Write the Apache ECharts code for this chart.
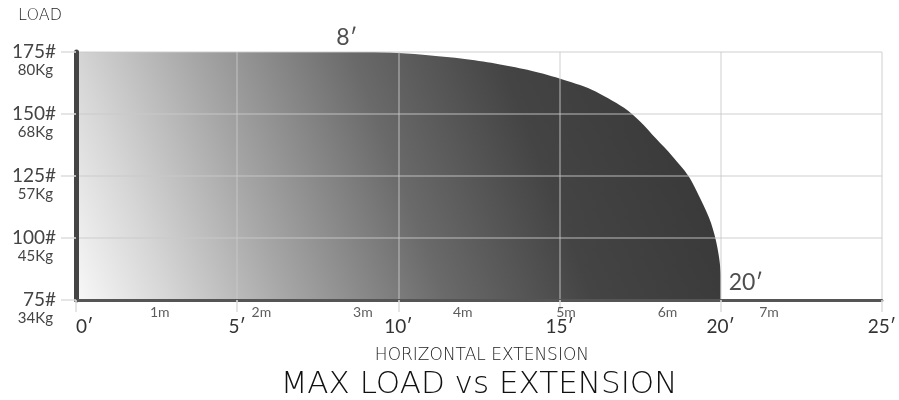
<!DOCTYPE html>
<html>
<head>
<meta charset="utf-8">
<script src="https://cdn.jsdelivr.net/npm/echarts@6/dist/echarts.min.js"></script>
<style>
html, body { margin: 0; padding: 0; background: #fff; }
#main { width: 899px; height: 400px; }
</style>
</head>
<body>
<div id="main"></div>
<script>
// max load curve (feet of extension -> lb)
let extFt   = [0, 8, 9, 10, 11, 12, 13, 14, 15, 16, 17, 17.5, 18, 18.5, 19, 19.4, 19.7, 19.9, 20, 20];
let maxLoad = [175, 175, 175, 174.6, 173.6, 172.3, 170.4, 167.8, 164.3, 159.8, 152.5, 147, 140, 133, 125, 115, 106, 96, 85, 75];

// y axis ticks: lb and kg
let loadLb = [75, 100, 125, 150, 175];
let loadKg = ['34Kg', '45Kg', '57Kg', '68Kg', '80Kg'];

// metric labels under the axis (placed in feet)
let metricLabels = ['1m', '2m', '3m', '4m', '5m', '6m', '7m'];
let metricPos = [2.6, 5.75, 8.9, 12.0, 15.2, 18.35, 21.5];

// notes on the curve
let noteLabels = ['8′', '20′'];
let noteFt = [8.4, 20];
let noteLoad = [175, 75];

let font = 'Lato, "Noto Sans", sans-serif';
let thin = '"DejaVu Sans", sans-serif';
let chart = echarts.init(document.getElementById('main'));

let curve = extFt.map((x, i) => [x, maxLoad[i]]);
let metric = metricLabels.map((m, i) => ({ name: m, value: [metricPos[i], 75] }));
let notes = noteLabels.map((t, i) => ({ name: t, value: [noteFt[i], noteLoad[i]] }));
notes[0].label = { position: 'top', distance: 3 };
notes[1].label = { position: 'right', distance: 8, offset: [0, -17] };

let option = {
    animation: false,
    title: {
        text: 'MAX LOAD vs EXTENSION',
        left: 474,
        top: 364,
        textAlign: 'center',
        textStyle: { fontFamily: thin, fontSize: 31, fontWeight: 200, color: '#111' }
    },
    grid: { left: 76, right: 13, top: 52, bottom: 100 },
    xAxis: {
        type: 'value',
        min: 0,
        max: 25,
        interval: 5,
        z: 3,
        name: 'HORIZONTAL EXTENSION',
        nameLocation: 'middle',
        nameGap: 47,
        nameTextStyle: { fontFamily: thin, fontSize: 17, fontWeight: 200, color: '#222', padding: [0, 0, 0, 6] },
        axisLine: { lineStyle: { color: '#555', width: 3 } },
        axisTick: { show: true, length: 12, lineStyle: { color: '#ddd', width: 1.5 } },
        axisLabel: {
            margin: 17,
            fontFamily: font,
            fontSize: 19,
            color: '#333',
            alignMinLabel: 'left',
            formatter: v => v + '′'
        },
        splitLine: { show: true, lineStyle: { color: 'rgba(200,200,200,0.6)', width: 1.5 } }
    },
    yAxis: {
        type: 'value',
        min: 75,
        max: 175,
        interval: 25,
        z: 3,
        name: 'LOAD',
        nameLocation: 'end',
        nameGap: 28,
        nameTextStyle: { fontFamily: thin, fontSize: 16, fontWeight: 200, color: '#222', align: 'right', padding: [0, 14, 0, 0] },
        axisLine: { show: true, lineStyle: { color: '#444', width: 5 } },
        axisTick: { show: true, length: 15, lineStyle: { color: '#ddd', width: 1.5 } },
        axisLabel: {
            margin: 20,
            align: 'right',
            fontFamily: font,
            color: '#444',
            formatter: v => {
                let i = loadLb.indexOf(v);
                return '{s| }\n{a|' + v + '#}\n{b|' + loadKg[i] + '}';
            },
            rich: {
                s: { fontSize: 10, lineHeight: 18 },
                a: { fontSize: 19, lineHeight: 18, color: '#444', fontFamily: font },
                b: { fontSize: 15, lineHeight: 18, color: '#444', fontFamily: font, padding: [0, 3, 0, 0] }
            }
        },
        splitLine: { show: true, lineStyle: { color: 'rgba(200,200,200,0.6)', width: 1.5 } }
    },
    series: [
        {
            name: 'Max load',
            type: 'line',
            data: curve,
            symbol: 'none',
            smooth: 0.3,
            z: 1,
            lineStyle: { width: 0 },
            areaStyle: {
                opacity: 1,
                color: new echarts.graphic.LinearGradient(0, 1, 1, 0, [
                    { offset: 0, color: '#f8f8f8' },
                    { offset: 0.13, color: '#d5d5d5' },
                    { offset: 0.28, color: '#a8a8a8' },
                    { offset: 0.5, color: '#6a6a6a' },
                    { offset: 0.7, color: '#444444' },
                    { offset: 0.9, color: '#3a3a3a' },
                    { offset: 1, color: '#363636' }
                ])
            }
        },
        {
            name: 'metric',
            type: 'scatter',
            data: metric,
            symbolSize: 0,
            clip: false,
            z: 4,
            label: {
                show: true,
                position: 'bottom',
                distance: 5,
                formatter: '{b}',
                fontFamily: font,
                fontSize: 14,
                color: '#333'
            }
        },
        {
            name: 'notes',
            type: 'scatter',
            data: notes,
            symbolSize: 0,
            clip: false,
            z: 4,
            label: {
                show: true,
                formatter: '{b}',
                fontFamily: font,
                fontSize: 23,
                color: '#222'
            }
        }
    ]
};
chart.setOption(option);
</script>
</body>
</html>
